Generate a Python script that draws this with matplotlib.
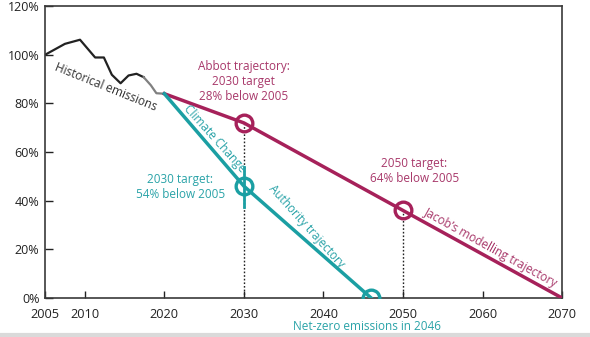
import matplotlib.pyplot as plt
from matplotlib.lines import Line2D

# ==============================================================================
# Data
#
hist_years = [2005, 2007.5, 2009.4, 2011.3, 2012.4, 2013.4, 2014.5, 2015.5,
              2016.5, 2017.4]
hist_values = [100, 104.5, 106.2, 98.9, 98.9, 91.8, 88.3, 91.5, 92.2, 90.8]
recent_years = [2017.4, 2018.3, 2019.0, 2020]
recent_values = [90.8, 87.5, 84.2, 84]

abbot_years = [2020, 2030, 2050, 2070]
abbot_values = [84, 72, 36, 0]
cca_years = [2020, 2030, 2046]
cca_values = [84, 46, 0]

x_ticks = [2005, 2010, 2020, 2030, 2040, 2050, 2060, 2070]
y_ticks = [0, 20, 40, 60, 80, 100, 120]

CRIMSON = '#a6215a'
CRIMSON_TEXT = '#a8386a'
TEAL = '#1b9fa3'
TEAL_TEXT = '#2aa3a8'
DARK = '#222222'
FONT = 'Open Sans'
LABEL_SIZE = 8.5

plt.rcParams['font.family'] = [FONT, 'DejaVu Sans']

# ==============================================================================
# Plot
#
fig = plt.figure(figsize=(5.9, 3.37), dpi=100)
ax = fig.add_axes([0.0763, 0.1157, 0.8764, 0.866])

ax.plot(hist_years, hist_values, color=DARK, lw=1.6, solid_joinstyle='round')
ax.plot(recent_years, recent_values, color='#808080', lw=1.6)

# dotted drop lines to the axis
ax.plot([2030, 2030], [0, abbot_values[1]], color=DARK, lw=1.0, ls=(0, (1.2, 1.4)))
ax.plot([2050, 2050], [0, abbot_values[2]], color=DARK, lw=1.0, ls=(0, (1.2, 1.4)))
ax.plot([2030, 2030], [37.5, 54], color=TEAL, lw=2.0)

ax.plot(abbot_years, abbot_values, color=CRIMSON, lw=2.5, zorder=3)
ax.plot(cca_years, cca_values, color=TEAL, lw=2.5, zorder=3)

marker_style = dict(marker='o', ms=12, mfc='none', mew=2.4, ls='none', zorder=4)
ax.plot([abbot_years[1], abbot_years[2]], [abbot_values[1], abbot_values[2]],
        mec=CRIMSON, **marker_style)
ax.plot([cca_years[1], cca_years[2]], [cca_values[1], cca_values[2]],
        mec=TEAL, **marker_style)

# labels
ax.text(2012.6, 86.5, 'Historical emissions', rotation=-22, color='#333333',
        fontsize=LABEL_SIZE, ha='center', va='center', rotation_mode='anchor')
ax.text(2030, 89, 'Abbot trajectory:\n2030 target\n28% below 2005',
        color=CRIMSON_TEXT, fontsize=LABEL_SIZE, ha='center', va='center',
        linespacing=1.2)
ax.text(2051.4, 52.3, '2050 target:\n64% below 2005',
        color=CRIMSON_TEXT, fontsize=LABEL_SIZE, ha='center', va='center',
        linespacing=1.2)
ax.text(2022, 45.8, '2030 target:\n54% below 2005',
        color=TEAL_TEXT, fontsize=LABEL_SIZE, ha='center', va='center',
        linespacing=1.2)
ax.text(2026.3, 65.5, 'Climate Change', rotation=-48, color=TEAL_TEXT,
        fontsize=LABEL_SIZE, ha='center', va='center', rotation_mode='anchor')
ax.text(2037.9, 29.5, 'Authority trajectory', rotation=-48, color=TEAL_TEXT,
        fontsize=LABEL_SIZE, ha='center', va='center', rotation_mode='anchor')
ax.text(2061.0, 20.5, "Jacob’s modelling trajectory", rotation=-29,
        color=CRIMSON_TEXT, fontsize=LABEL_SIZE, ha='center', va='center',
        rotation_mode='anchor')
ax.text(2045.5, -11.8, 'Net-zero emissions in 2046', color=TEAL_TEXT,
        fontsize=LABEL_SIZE, ha='center', va='center', clip_on=False)

# axes
ax.set_xlim(2005, 2070)
ax.set_ylim(0, 120)
ax.set_xticks(x_ticks)
ax.set_xticklabels([str(t) for t in x_ticks])
ax.set_yticks(y_ticks)
ax.set_yticklabels(['%d%%' % t for t in y_ticks])
ax.tick_params(axis='x', direction='in', length=5, width=1.0, pad=7,
               labelsize=9.2, colors=DARK)
ax.tick_params(axis='y', direction='in', length=6, width=1.0, pad=4,
               labelsize=9, colors=DARK)
for spine in ax.spines.values():
    spine.set_linewidth(1.2)
    spine.set_color('#3a3a3a')

fig.add_artist(Line2D([0, 1], [0.006, 0.006], color='#dadada', lw=3))

fig.savefig('out.png', dpi=100)
